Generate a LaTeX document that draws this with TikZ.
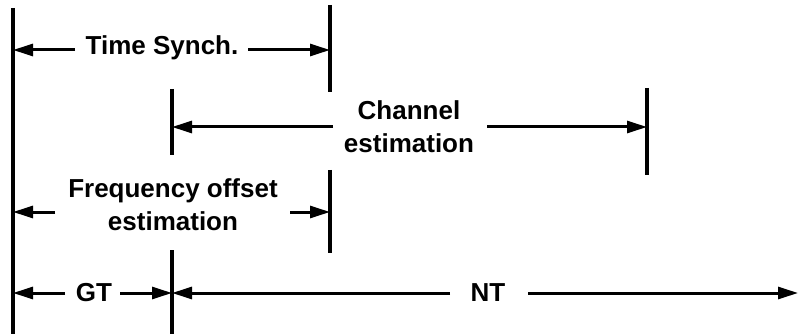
\documentclass[tikz,border=0pt]{standalone}
\usepackage{fontspec}
\setmainfont{Liberation Sans}
\usetikzlibrary{arrows.meta}
\begin{document}
\begin{tikzpicture}[x=1pt,y=-1pt,
  tick/.style={line width=3.6pt},
  arr/.style={line width=3pt,-{Triangle[length=20pt,width=12pt]}},
  lbl/.style={font=\bfseries\fontsize{26}{33}\selectfont,align=center,inner sep=0pt}]
\useasboundingbox (0,0) rectangle (798,334);
% tick lines
\coordinate (L0a) at (13,8);   \coordinate (L0b) at (13,334);
\coordinate (T1a) at (330,5);  \coordinate (T1b) at (330,92);
\coordinate (T2a) at (172,89); \coordinate (T2b) at (172,155);
\coordinate (T3a) at (647,88); \coordinate (T3b) at (647,175);
\coordinate (T4a) at (330,170);\coordinate (T4b) at (330,253);
\coordinate (T5a) at (172,250);\coordinate (T5b) at (172,334);
\draw[tick] (L0a) -- (L0b);
\draw[tick] (T1a) -- (T1b);
\draw[tick] (T2a) -- (T2b);
\draw[tick] (T3a) -- (T3b);
\draw[tick] (T4a) -- (T4b);
\draw[tick] (T5a) -- (T5b);
% labels
\node[lbl] (ts) at (162,48) {Time Synch.};
\node[lbl] (ce) at (409,127) {Channel\\estimation};
\node[lbl] (fo) at (173,205) {Frequency offset\\estimation};
\node[lbl] (gt) at (94,293) {GT};
\node[lbl] (nt) at (488,293) {NT};
% arrow shaft ends
\coordinate (tsL) at (75,50);  \coordinate (tsR) at (248,50);
\coordinate (ceL) at (333,127);\coordinate (ceR) at (487,127);
\coordinate (foL) at (55,212); \coordinate (foR) at (290,212);
\coordinate (gtL) at (65,293); \coordinate (gtR) at (120,293);
\coordinate (ntL) at (450,293);\coordinate (ntR) at (528,293);
\coordinate (END) at (798,293);
% arrows
\draw[arr] (tsL) -- (L0a |- tsL);
\draw[arr] (tsR) -- (T1a |- tsR);
\draw[arr] (ceL) -- (T2a |- ceL);
\draw[arr] (ceR) -- (T3a |- ceR);
\draw[arr] (foL) -- (L0a |- foL);
\draw[arr] (foR) -- (T4a |- foR);
\draw[arr] (gtL) -- (L0a |- gtL);
\draw[arr] (gtR) -- (T5a |- gtR);
\draw[arr] (ntL) -- (T5a |- ntL);
\draw[arr] (ntR) -- (END);
\end{tikzpicture}
\end{document}
